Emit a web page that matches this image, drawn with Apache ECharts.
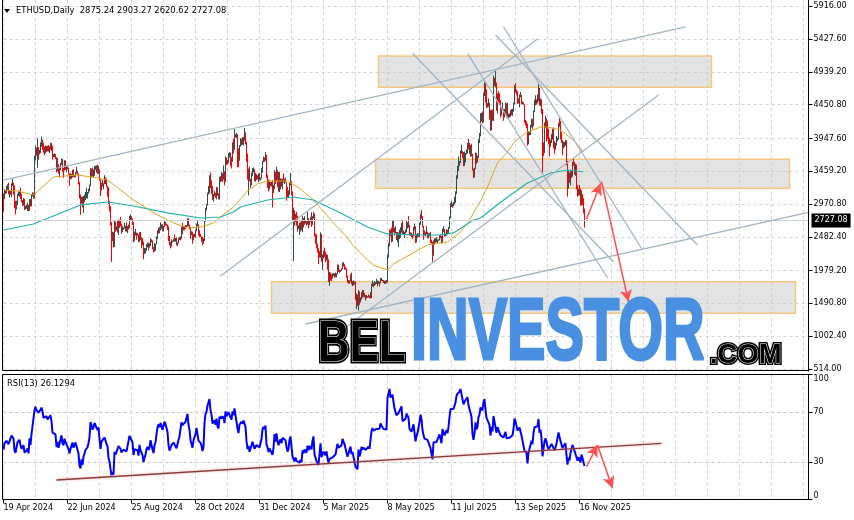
<!DOCTYPE html>
<html>
<head>
<meta charset="utf-8">
<title>ETHUSD Daily</title>
<script src="https://cdn.jsdelivr.net/npm/echarts@6.0.0/dist/echarts.min.js"></script>
<style>
html,body{margin:0;padding:0;background:#ffffff;}
#chart{width:854px;height:520px;}
</style>
</head>
<body>
<div id="chart"></div>
<script>
// ---------- tick labels ----------
const dateLabels = ['19 Apr 2024','22 Jun 2024','25 Aug 2024','28 Oct 2024','31 Dec 2024','5 Mar 2025','8 May 2025','11 Jul 2025','13 Sep 2025','16 Nov 2025'];
const priceTickValues = [514, 1002.4, 1490.8, 1979.2, 2482.4, 2970.8, 3459.2, 3947.6, 4450.8, 4939.2, 5427.6, 5916];
const rsiTickValues = [0, 30, 70, 100];
const lastBar = [2875.24, 2903.27, 2620.62, 2727.08];
const rsiLabel = 'RSI(13) 26.1294';

// ---------- daily candles, 19 Apr 2024 .. 21 Nov 2025 (open = previous close) ----------
const firstOpen = 3065;
const closes = [
// Apr 2024
3060,3160,3150,3200,3220,3140,3155,3130,3255,3265,3215,3015,
// May 2024
2970,2990,3100,3120,3135,3060,3000,2975,3030,2910,2910,2930,2950,2880,3040,2945,3090,3120,3075,3660,3790,3740,3780,3730,3750,3825,3890,3845,3765,3745,3760,
// Jun 2024
3815,3780,3765,3810,3865,3810,3680,3685,3705,3665,3500,3560,3470,3480,3565,3620,3510,3480,3560,3515,3520,3495,3420,3350,3395,3370,3450,3380,3375,3430,
// Jul 2024
3440,3420,3290,3060,2980,3070,2930,3020,3060,3100,3100,3130,3175,3245,3485,3445,3390,3425,3505,3520,3535,3440,3480,3335,3175,3275,3250,3270,3320,3280,3230,
// Aug 2024
3200,2990,2905,2690,2420,2460,2340,2680,2600,2610,2560,2720,2700,2660,2570,2590,2610,2615,2635,2570,2630,2620,2765,2770,2750,2680,2460,2530,2530,2525,2515,
// Sep 2024
2425,2540,2450,2450,2370,2225,2270,2300,2360,2385,2340,2360,2440,2420,2315,2260,2340,2370,2465,2560,2610,2580,2645,2655,2580,2635,2695,2675,2660,2600,
// Oct 2024
2450,2365,2350,2415,2415,2440,2420,2440,2370,2385,2440,2475,2465,2630,2605,2610,2605,2645,2645,2745,2665,2625,2525,2535,2440,2510,2505,2570,2640,2660,2515,
// Nov 2024
2510,2490,2460,2395,2425,2720,2895,2960,3125,3185,3375,3245,3185,3060,3100,3135,3075,3210,3105,3070,3355,3325,3395,3360,3415,3325,3655,3580,3590,3705,
// Dec 2024
3710,3640,3610,3835,3785,4000,3995,4005,3710,3625,3835,3880,3910,3875,3960,3985,3880,3625,3420,3480,3320,3280,3420,3490,3490,3330,3335,3390,3350,3360,3335,
// Jan 2025
3355,3450,3605,3655,3625,3685,3380,3325,3220,3270,3280,3265,3135,3225,3450,3310,3470,3305,3215,3280,3325,3240,3340,3315,3315,3295,3180,3080,3115,3250,3300,
// Feb 2025
3125,2870,2870,2730,2785,2685,2630,2630,2630,2660,2600,2740,2675,2725,2695,2665,2745,2670,2720,2730,2665,2765,2820,2510,2495,2340,2310,2235,
// Mar 2025
2215,2510,2150,2170,2240,2200,2140,2200,2020,1865,1920,1910,1865,1910,1935,1890,1925,1935,2055,1985,1965,1980,2005,2080,2065,2010,2005,1895,1825,1805,1820,
// Apr 2025
1905,1795,1815,1815,1805,1545,1555,1470,1670,1525,1570,1645,1595,1620,1590,1580,1585,1590,1610,1585,1580,1755,1795,1770,1785,1790,1790,1800,1800,1795,
// May 2025
1840,1840,1830,1810,1815,1815,1810,2205,2345,2585,2510,2495,2680,2610,2545,2545,2475,2500,2525,2525,2560,2665,2525,2535,2545,2565,2655,2680,2635,2530,2530,
// Jun 2025
2505,2490,2595,2610,2420,2480,2520,2510,2680,2820,2770,2645,2575,2525,2535,2545,2510,2525,2525,2410,2405,2230,2420,2445,2415,2420,2425,2435,2500,2485,
// Jul 2025
2405,2570,2590,2505,2515,2570,2540,2615,2770,2950,2960,2945,2975,3015,3135,3370,3475,3545,3590,3755,3760,3745,3620,3710,3720,3745,3870,3795,3795,3810,3700,
// Aug 2025
3485,3395,3495,3725,3615,3680,3915,3990,4255,4265,4220,4600,4760,4585,4430,4440,4475,4320,4080,4340,4230,4830,4780,4780,4380,4600,4510,4500,4360,4370,4390,
// Sep 2025
4310,4330,4450,4300,4300,4270,4305,4310,4300,4350,4460,4715,4670,4605,4525,4500,4590,4590,4470,4480,4455,4195,4160,4150,3880,4030,4020,4145,4220,4150,
// Oct 2025
4350,4485,4510,4485,4515,4685,4460,4525,4365,3835,3760,4155,4250,4130,3980,3890,3830,3890,3985,3985,3875,3805,3860,3935,3950,4160,4130,3980,3905,3810,3850,
// Nov 2025
3875,3895,3600,3290,3410,3310,3440,3400,3580,3570,3420,3420,3230,3110,3170,3140,3000,3120,3020,2875.24,2727.08
];
const highs = [
3125,3195,3180,3240,3265,3290,3170,3175,3280,3355,3290,3250,
3020,3020,3125,3170,3170,3220,3125,3030,3060,3050,2945,2960,2995,2955,3045,3045,3120,3145,3140,3690,3840,3810,3950,3820,3775,3890,3975,3930,3880,3825,3845,
3835,3840,3850,3830,3885,3880,3840,3715,3725,3715,3670,3655,3565,3530,3585,3650,3640,3505,3625,3620,3545,3530,3515,3425,3430,3420,3480,3490,3400,3445,
3525,3465,3425,3300,3115,3080,3080,3090,3110,3150,3215,3150,3200,3260,3505,3500,3515,3485,3540,3540,3545,3560,3540,3490,3340,3290,3330,3280,3400,3370,3350,
3240,3220,3020,2940,2700,2560,2550,2720,2710,2640,2720,2740,2740,2780,2680,2640,2620,2690,2645,2700,2645,2665,2795,2820,2790,2760,2700,2560,2600,2545,2540,
2520,2550,2555,2475,2460,2410,2315,2315,2375,2395,2395,2385,2460,2445,2430,2330,2390,2375,2490,2580,2615,2630,2700,2670,2670,2645,2725,2705,2680,2665,
2640,2495,2405,2445,2425,2455,2520,2465,2475,2400,2460,2485,2485,2635,2690,2640,2640,2660,2655,2755,2765,2665,2625,2565,2560,2525,2530,2585,2680,2720,2670,
2580,2525,2490,2480,2460,2730,2910,2970,3140,3240,3400,3440,3325,3240,3120,3170,3140,3225,3220,3130,3380,3385,3445,3430,3545,3460,3680,3660,3630,3730,
3745,3735,3670,3890,3940,4090,4010,4030,4010,3800,3850,3950,3945,3965,3970,4105,4040,3900,3720,3500,3530,3345,3440,3510,3515,3480,3435,3415,3400,3425,3435,
3365,3505,3615,3675,3665,3745,3700,3410,3340,3325,3300,3300,3330,3255,3475,3450,3525,3475,3450,3450,3355,3345,3350,3425,3350,3365,3295,3225,3175,3285,3435,
3310,3160,2920,2880,2825,2855,2800,2655,2695,2700,2720,2790,2760,2790,2735,2715,2850,2760,2735,2775,2850,2790,2855,2830,2530,2520,2380,2310,
2270,2550,2525,2220,2280,2320,2260,2225,2215,2150,1960,1950,1925,1935,1945,1940,1950,1940,2070,2070,1995,1990,2015,2100,2105,2075,2035,2010,1905,1840,1835,
1925,1950,1825,1835,1820,1815,1640,1620,1690,1670,1580,1660,1690,1690,1645,1615,1615,1600,1625,1610,1660,1785,1830,1800,1825,1805,1860,1830,1830,1810,
1870,1870,1845,1840,1830,1830,1840,2215,2390,2590,2590,2620,2730,2720,2620,2640,2555,2555,2545,2590,2625,2690,2735,2575,2555,2595,2715,2700,2790,2655,2550,
2545,2530,2630,2680,2640,2525,2540,2535,2695,2830,2880,2790,2640,2580,2550,2645,2560,2540,2535,2555,2440,2410,2430,2460,2460,2480,2445,2445,2505,2520,
2495,2605,2640,2600,2530,2595,2590,2630,2785,2985,3015,2980,3000,3080,3160,3400,3540,3680,3610,3770,3855,3760,3745,3755,3730,3785,3880,3940,3880,3850,3870,
3720,3500,3510,3740,3730,3690,3935,4030,4325,4330,4350,4625,4785,4790,4680,4475,4545,4480,4375,4370,4380,4885,4850,4955,4780,4620,4650,4620,4520,4400,4485,
4385,4385,4485,4470,4480,4320,4320,4370,4385,4390,4480,4740,4770,4680,4650,4545,4605,4640,4595,4500,4485,4455,4225,4200,4165,4055,4040,4150,4245,4235,
4365,4525,4590,4530,4600,4755,4700,4545,4530,4390,3890,4185,4290,4200,4210,4090,3960,3930,4015,4090,4110,3910,3885,3985,3960,4175,4250,4210,4040,3925,3900,
3895,3930,3920,3610,3470,3440,3480,3465,3600,3650,3600,3570,3560,3250,3200,3255,3200,3175,3110,3060,2903.27
];
const lows = [
2860,3045,3120,3130,3180,3115,3070,3110,3075,3240,3110,2910,
2815,2890,2960,3090,3080,3045,2995,2940,2950,2880,2890,2900,2865,2865,2870,2935,2935,3085,3050,3055,3615,3690,3510,3630,3710,3730,3825,3775,3735,3700,3725,
3750,3755,3750,3730,3780,3760,3630,3665,3670,3640,3440,3460,3420,3365,3475,3555,3450,3360,3470,3480,3445,3490,3410,3240,3340,3345,3365,3375,3365,3370,
3425,3400,3260,3050,2810,2980,2920,2840,3000,3030,3060,3050,3125,3160,3240,3370,3380,3375,3390,3480,3440,3420,3420,3320,3090,3170,3230,3190,3265,3265,3225,
3080,2975,2860,2650,2110,2420,2325,2330,2560,2580,2545,2510,2615,2640,2530,2550,2585,2605,2560,2560,2540,2590,2610,2735,2730,2660,2400,2420,2500,2440,2500,
2400,2410,2430,2310,2355,2150,2225,2240,2275,2325,2280,2320,2345,2400,2300,2250,2260,2275,2370,2450,2530,2535,2575,2600,2565,2560,2625,2655,2645,2585,
2420,2355,2310,2340,2400,2410,2410,2410,2355,2345,2380,2435,2430,2455,2520,2580,2580,2600,2630,2635,2640,2595,2450,2505,2380,2430,2475,2470,2565,2640,2500,
2475,2480,2410,2355,2380,2420,2710,2875,2950,3110,3130,3210,3120,3030,3010,3090,3060,3040,3095,3040,3035,3300,3310,3300,3335,3250,3300,3550,3560,3580,
3665,3535,3500,3600,3725,3780,3960,3950,3520,3520,3615,3825,3845,3855,3840,3915,3860,3600,3335,3100,3310,3215,3250,3390,3440,3310,3305,3330,3340,3300,3325,
3320,3350,3440,3595,3600,3615,3360,3210,3160,3190,3235,3230,2920,3140,3195,3270,3310,3220,3155,3150,3190,3230,3190,3290,3270,3290,3020,3060,3070,3110,3260,
3100,2720,2120,2650,2700,2650,2560,2600,2510,2560,2580,2550,2620,2660,2680,2650,2665,2610,2660,2705,2630,2660,2755,2490,2380,2310,2250,2075,
2175,2170,2110,1990,2160,2180,2105,2135,1995,1810,1755,1830,1825,1860,1900,1875,1880,1880,1925,1960,1945,1960,1975,2000,2040,1995,1990,1870,1800,1785,1785,
1815,1775,1750,1760,1770,1540,1410,1450,1385,1470,1505,1545,1575,1590,1580,1535,1565,1575,1580,1565,1565,1570,1745,1730,1750,1770,1780,1745,1780,1740,
1790,1825,1820,1795,1780,1785,1790,1805,2170,2340,2490,2400,2410,2550,2500,2540,2435,2400,2330,2450,2470,2545,2510,2510,2465,2530,2550,2605,2620,2500,2495,
2475,2450,2490,2580,2390,2400,2470,2485,2480,2660,2755,2625,2440,2500,2490,2520,2460,2460,2490,2390,2380,2110,2200,2365,2395,2400,2390,2420,2430,2460,
2380,2390,2555,2485,2490,2500,2520,2530,2605,2760,2925,2915,2940,2965,2990,3120,3350,3460,3535,3580,3720,3655,3535,3540,3590,3710,3725,3785,3720,3675,3680,
3470,3355,3370,3490,3570,3590,3660,3880,3980,4200,4170,4190,4580,4480,4400,4410,4420,4230,4060,4070,4210,4210,4730,4710,4360,4320,4490,4470,4260,4290,4370,
4210,4260,4300,4260,4260,4250,4260,4270,4290,4285,4345,4455,4630,4590,4460,4470,4410,4560,4455,4460,4445,4180,4140,4100,3840,3860,3995,4000,4110,4090,
4130,4340,4440,4450,4475,4500,4440,4430,4310,3435,3685,3730,4100,3900,3940,3860,3680,3820,3880,3930,3800,3720,3780,3840,3905,3930,4120,3930,3880,3700,3800,
3820,3840,3550,3080,3200,3290,3250,3360,3380,3540,3410,3390,3190,3080,3095,3100,2950,2950,2950,2830,2620.62
];
// closes 1 Mar - 18 Apr 2024, only used to warm up the RSI
const warmupCloses = [
3435,3420,3490,3630,3550,3820,3870,3890,3910,3870,4065,3980,4005,3880,3740,3525,3645,3515,3155,3515,
3490,3330,3330,3450,3590,3585,3490,3560,3510,3505,3645,3505,3275,3310,3330,3320,3390,3455,3695,3505,
3545,3505,3240,3010,3095,3100,3085,2985,3065
];

// ---------- moving averages (day index, price) ----------
const maFastDays = [0,14,30,50,74,94,104,130,154,170,184,197,210,217,230,237,244,254,264,284,297,310,330,344,350,364,370,384,390,397,424,444,457,465,470,477,484,494,504,510,517,524,537,544,557,570,580];
const maFastValues = [3180,3165,3106,3374,3404,3359,3329,3031,2808,2689,2614,2629,2689,2778,2927,3046,3165,3270,3314,3314,3195,3031,2689,2465,2346,2138,2063,1989,2078,2138,2361,2406,2555,2703,2838,3016,3225,3582,3746,3880,3970,4044,4118,4118,4074,3925,3746];
const maSlowDays = [0,30,77,104,130,164,197,217,230,237,264,290,310,337,364,384,417,437,450,470,477,504,524,547,564,580];
const maSlowValues = [2584,2674,2957,3001,2942,2838,2763,2778,2852,2927,3031,3076,3031,2838,2629,2525,2510,2510,2540,2733,2763,3076,3284,3433,3478,3448];

// ---------- drawn objects (day index, price) ----------
const zones = [
  [375, 5176, 708, 4710],
  [372, 3637, 786, 3206],
  [268, 1814, 792, 1344]
];
const trendLines = [
  [0, 3328, 682, 5608],
  [217, 1899, 534, 5429],
  [340, 1110, 655, 4595],
  [302, 1184, 805, 2847],
  [409, 5216, 610, 2108],
  [464, 5216, 604, 1869],
  [492, 5489, 694, 2361],
  [500, 5612, 639, 2286]
];
const priceArrows = [
  [583, 2744, 597, 3277],
  [598, 3304, 625, 1516]
];
// RSI panel objects (day index, RSI value)
const rsiTrendLine = [53, 15.6, 658, 44.9];
const rsiArrows = [
  [583, 26.2, 594, 43.6],
  [594, 43.6, 609, 9.0]
];

// ---------- build ----------
const FONT = '"DejaVu Sans", "Liberation Sans", sans-serif';
const N_CATS = 806;
const MON = ['Jan','Feb','Mar','Apr','May','Jun','Jul','Aug','Sep','Oct','Nov','Dec'];
const t0 = Date.UTC(2024, 3, 19);
const categories = [];
for (let i = 0; i < N_CATS; i++) {
  const d = new Date(t0 + i * 86400000);
  categories.push(d.getUTCDate() + ' ' + MON[d.getUTCMonth()] + ' ' + d.getUTCFullYear());
}
const candleData = closes.map((c, i) => {
  const o = i === 0 ? firstOpen : closes[i - 1];
  const h = Math.max(highs[i], o, c);
  const l = Math.min(lows[i], o, c);
  return [o, c, l, h];
});
function rsiCalc(arr, n) {
  const out = new Array(arr.length).fill(null);
  let g = 0, l = 0;
  for (let i = 1; i <= n; i++) { const d = arr[i] - arr[i - 1]; if (d > 0) g += d; else l -= d; }
  g /= n; l /= n;
  out[n] = l === 0 ? 100 : 100 - 100 / (1 + g / l);
  for (let i = n + 1; i < arr.length; i++) {
    const d = arr[i] - arr[i - 1];
    g = (g * (n - 1) + (d > 0 ? d : 0)) / n;
    l = (l * (n - 1) + (d < 0 ? -d : 0)) / n;
    out[i] = l === 0 ? 100 : 100 - 100 / (1 + g / l);
  }
  return out;
}
const rsiValues = rsiCalc(warmupCloses.concat(closes), 13).slice(warmupCloses.length);
const maFastData = maFastDays.map((d, i) => [d, maFastValues[i]]);
const maSlowData = maSlowDays.map((d, i) => [d, maSlowValues[i]]);
const seg = t => [{coord: [t[0], t[1]]}, {coord: [t[2], t[3]]}];
const lastClose = lastBar[3];
const titleText = 'ETHUSD,Daily  ' + lastBar.map(v => v.toFixed(2)).join(' ');

const labelInterval = idx => idx % 64 === 0 && idx / 64 < dateLabels.length;
const gridLine = {show: true, interval: 31, lineStyle: {color: '#d3d3d3', type: [3, 3], width: 1}};

function wmText(text, x, y, size, scaleX, fill, stroke, lw, z) {
  return {type: 'text', x: x, y: y, scaleX: scaleX, z: z, silent: true,
    style: {text: text, x: 0, y: 0, font: 'bold ' + size + 'px "Liberation Sans", Arial, sans-serif',
      fill: fill, stroke: stroke, lineWidth: lw, lineJoin: 'round', align: 'left', verticalAlign: 'middle',
      textAlign: 'left', textVerticalAlign: 'middle'}};
}

const option = {
  animation: false,
  backgroundColor: '#ffffff',
  grid: [
    {left: 3.5, right: 45.5, top: 0, height: 371},
    {left: 3.5, right: 45.5, top: 374.5, height: 125}
  ],
  xAxis: [
    {type: 'category', gridIndex: 0, data: categories, boundaryGap: false,
     axisLine: {show: false}, axisTick: {show: false}, axisLabel: {show: false}, splitLine: gridLine},
    {type: 'category', gridIndex: 1, data: categories, boundaryGap: false, position: 'bottom',
     axisLine: {show: false},
     axisTick: {show: true, inside: false, length: 4, interval: labelInterval, lineStyle: {color: '#000'}},
     axisLabel: {show: true, interval: labelInterval, formatter: (v, idx) => dateLabels[idx / 64] || '',
       align: 'left', margin: 4, color: '#000', fontFamily: FONT, fontSize: 8},
     splitLine: gridLine}
  ],
  yAxis: [
    {type: 'value', gridIndex: 0, position: 'right', min: 484, max: 6010,
     axisLine: {show: true, lineStyle: {color: '#000'}},
     axisTick: {show: true, inside: false, length: 4, customValues: priceTickValues, lineStyle: {color: '#000'}},
     axisLabel: {show: true, customValues: priceTickValues, formatter: v => v.toFixed(2), margin: 5,
       color: '#000', fontFamily: FONT, fontSize: 8},
     splitLine: {show: true, lineStyle: {color: '#d3d3d3', type: [3, 3]}}},
    {type: 'value', gridIndex: 1, position: 'right', min: 0, max: 100,
     axisLine: {show: true, lineStyle: {color: '#000'}},
     axisTick: {show: true, inside: false, length: 4, customValues: rsiTickValues, lineStyle: {color: '#000'}},
     axisLabel: {show: true, customValues: rsiTickValues, margin: 5, color: '#000', fontFamily: FONT, fontSize: 8,
       verticalAlignMinLabel: 'bottom', verticalAlignMaxLabel: 'top'},
     splitLine: {show: true, lineStyle: {color: '#c4c4c4', type: [3, 3]}}}
  ],
  series: [
    {type: 'candlestick', name: 'ETHUSD', xAxisIndex: 0, yAxisIndex: 0, data: candleData,
     large: false, barWidth: 1, z: 2,
     itemStyle: {color: '#2f4f4f', color0: '#ff0000', borderColor: '#2f4f4f', borderColor0: '#ff0000',
       borderColorDoji: '#2f4f4f', borderWidth: 1},
     markLine: {silent: true, symbol: ['none', 'none'], data: [{yAxis: lastClose}],
       lineStyle: {color: '#d0d0d0', width: 1, type: 'solid'},
       label: {show: true, position: 'end', formatter: () => lastClose.toFixed(2), color: '#fff',
         backgroundColor: '#000', padding: [3, 3, 3, 3], fontFamily: FONT, fontSize: 8, distance: 3}}},
    {type: 'line', name: 'MA fast', xAxisIndex: 0, yAxisIndex: 0, data: maFastData, showSymbol: false,
     symbol: 'none', silent: true, z: 3, lineStyle: {color: '#daa520', width: 1}},
    {type: 'line', name: 'MA slow', xAxisIndex: 0, yAxisIndex: 0, data: maSlowData, showSymbol: false,
     symbol: 'none', silent: true, z: 3, lineStyle: {color: '#20b2aa', width: 1.2}},
    {type: 'line', name: 'zones', xAxisIndex: 0, yAxisIndex: 0, data: [], z: 4,
     markArea: {silent: true, label: {show: false},
       itemStyle: {color: 'rgba(200,200,200,0.5)', borderColor: '#f5c87f', borderWidth: 1.5},
       data: zones.map(seg)}},
    {type: 'line', name: 'trend', xAxisIndex: 0, yAxisIndex: 0, data: [], z: 5,
     markLine: {silent: true, symbol: ['none', 'none'], label: {show: false},
       lineStyle: {color: '#a2b5c5', width: 1.3, type: 'solid'}, data: trendLines.map(seg)}},
    {type: 'line', name: 'arrows', xAxisIndex: 0, yAxisIndex: 0, data: [], z: 6,
     markLine: {silent: true, symbol: ['none', 'arrow'], symbolSize: [9, 12], label: {show: false},
       lineStyle: {color: '#ff4f4f', width: 1.5, type: 'solid'}, data: priceArrows.map(seg)}},
    {type: 'line', name: 'RSI', xAxisIndex: 1, yAxisIndex: 1, data: rsiValues, showSymbol: false,
     symbol: 'none', silent: true, z: 3, lineStyle: {color: '#0000ff', width: 2}},
    {type: 'line', name: 'rsiTrend', xAxisIndex: 1, yAxisIndex: 1, data: [], z: 4,
     markLine: {silent: true, symbol: ['none', 'none'], label: {show: false},
       lineStyle: {color: '#8b3a3a', width: 1.5, type: 'solid', shadowBlur: 3, shadowColor: 'rgba(220,120,120,0.6)'},
       data: [seg(rsiTrendLine)]}},
    {type: 'line', name: 'rsiArrows', xAxisIndex: 1, yAxisIndex: 1, data: [], z: 5,
     markLine: {silent: true, symbol: ['none', 'arrow'], symbolSize: [9, 12], label: {show: false},
       lineStyle: {color: '#ff4f4f', width: 1.5, type: 'solid'}, data: rsiArrows.map(seg)}}
  ],
  graphic: [
    {type: 'rect', z: 50, silent: true, shape: {x: 2.5, y: -1, width: 806, height: 371.5},
     style: {fill: 'none', stroke: '#000', lineWidth: 1}},
    {type: 'rect', z: 50, silent: true, shape: {x: 2.5, y: 374.5, width: 806, height: 125},
     style: {fill: 'none', stroke: '#000', lineWidth: 1}},
    {type: 'polygon', z: 50, silent: true, shape: {points: [[4, 9], [10, 9], [7, 13]]}, style: {fill: '#000'}},
    {type: 'text', z: 50, silent: true, x: 16, y: 11,
     style: {text: titleText, font: '8.4px ' + FONT, fill: '#000', align: 'left', verticalAlign: 'middle',
       textAlign: 'left', textVerticalAlign: 'middle'}},
    {type: 'text', z: 50, silent: true, x: 7, y: 384,
     style: {text: rsiLabel, font: '8.4px ' + FONT, fill: '#000', align: 'left', verticalAlign: 'middle',
       textAlign: 'left', textVerticalAlign: 'middle'}},
    wmText('BEL', 318, 345, 57.6, 0.76, '#000', '#000', 5, 100),
    wmText('BEL', 318, 345, 57.6, 0.76, '#000', '#fff', 1.2, 101),
    wmText('INVESTOR', 411, 334.5, 88, 0.655, '#4a90e2', '#4a90e2', 3, 100),
    wmText('.COM', 710, 355.5, 27.4, 1.0, '#000', '#000', 4, 100),
    wmText('.COM', 710, 355.5, 27.4, 1.0, '#000', '#fff', 1, 101)
  ]
};

const chart = echarts.init(document.getElementById('chart'), null, {renderer: 'canvas', width: 854, height: 520});
chart.setOption(option);
</script>
</body>
</html>
